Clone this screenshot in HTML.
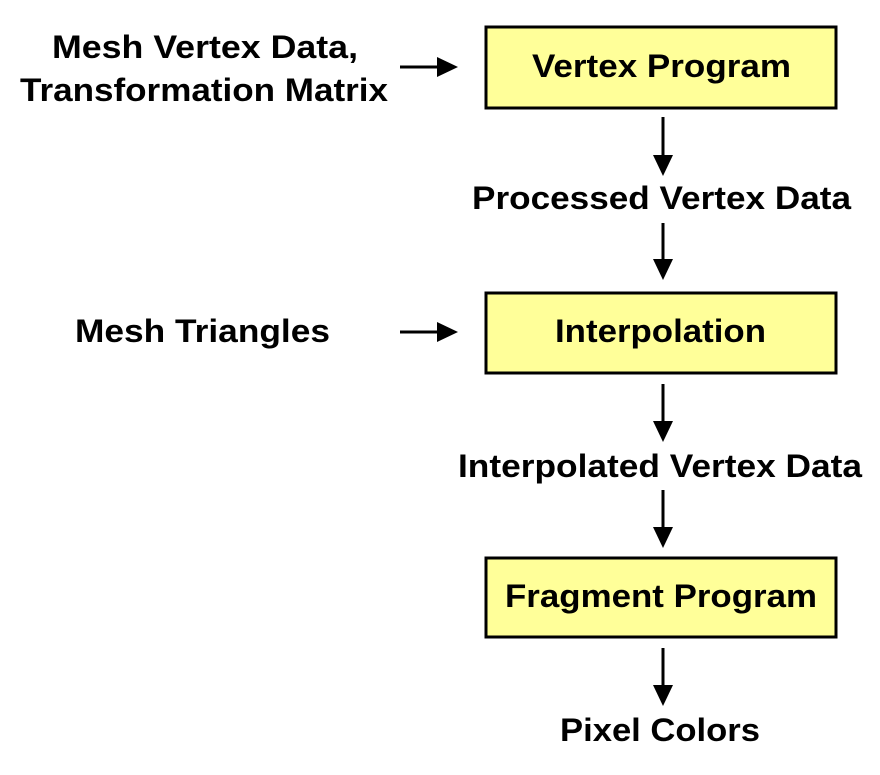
<!DOCTYPE html>
<html><head><style>html,body{margin:0;padding:0;background:#fff}</style></head>
<body>
<svg width="880" height="770" viewBox="0 0 880 770" xmlns="http://www.w3.org/2000/svg" font-family="Liberation Sans, Arial, sans-serif" font-weight="bold" font-size="32">
<g fill="#ffff99" stroke="#000" stroke-width="3">
<rect x="486" y="27" width="350" height="81"/>
<rect x="486" y="293" width="350" height="80"/>
<rect x="486" y="558" width="350" height="79"/>
</g>
<g fill="#000" lengthAdjust="spacingAndGlyphs">
<text x="532" y="77" textLength="259" lengthAdjust="spacingAndGlyphs">Vertex Program</text>
<text x="555" y="342" textLength="211" lengthAdjust="spacingAndGlyphs">Interpolation</text>
<text x="505" y="607" textLength="312" lengthAdjust="spacingAndGlyphs">Fragment Program</text>
<text x="472" y="209" textLength="379" lengthAdjust="spacingAndGlyphs">Processed Vertex Data</text>
<text x="458" y="477" textLength="404" lengthAdjust="spacingAndGlyphs">Interpolated Vertex Data</text>
<text x="560" y="741" textLength="200" lengthAdjust="spacingAndGlyphs">Pixel Colors</text>
<text x="52" y="58" textLength="306" lengthAdjust="spacingAndGlyphs">Mesh Vertex Data,</text>
<text x="20" y="101" textLength="368" lengthAdjust="spacingAndGlyphs">Transformation Matrix</text>
<text x="75" y="342" textLength="255" lengthAdjust="spacingAndGlyphs">Mesh Triangles</text>
</g>
<g stroke="#000" stroke-width="3" fill="#000">
<line x1="663" y1="117" x2="663" y2="158"/><path d="M653,155 L673,155 L663,176 z" stroke="none"/>
<line x1="663" y1="223" x2="663" y2="262"/><path d="M653,259 L673,259 L663,280 z" stroke="none"/>
<line x1="663" y1="384" x2="663" y2="424"/><path d="M653,421 L673,421 L663,442 z" stroke="none"/>
<line x1="663" y1="490" x2="663" y2="530"/><path d="M653,527 L673,527 L663,548 z" stroke="none"/>
<line x1="663" y1="648" x2="663" y2="688"/><path d="M653,685 L673,685 L663,706 z" stroke="none"/>
<line x1="400" y1="67" x2="440" y2="67"/><path d="M437,57 L437,77 L458,67 z" stroke="none"/>
<line x1="400" y1="332" x2="440" y2="332"/><path d="M437,322 L437,342 L458,332 z" stroke="none"/>
</g>
</svg>
</body></html>
